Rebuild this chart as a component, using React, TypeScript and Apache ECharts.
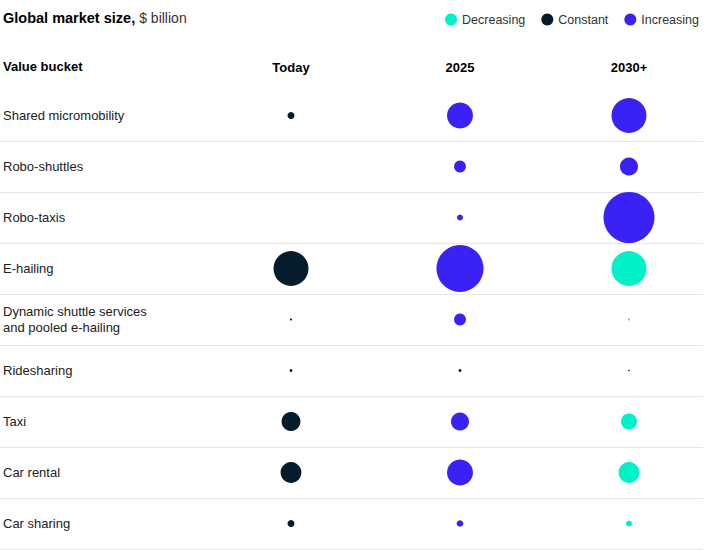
import React, { useEffect, useRef } from "react";
import * as echarts from "echarts";

const FONT = "'Liberation Sans', Arial, Helvetica, sans-serif";

const categories = [
  "Shared micromobility",
  "Robo-shuttles",
  "Robo-taxis",
  "E-hailing",
  "Dynamic shuttle services\nand pooled e-hailing",
  "Ridesharing",
  "Taxi",
  "Car rental",
  "Car sharing",
];

const columns = ["Today", "2025", "2030+"];

// Global market size, $ billion
const todayValues = [4.5, null, null, 112, 0.4, 0.8, 33, 40, 4.5];
const todayTrends = ["C", null, null, "C", "C", "C", "C", "C", "C"];

const values2025 = [62, 13, 3.3, 203, 13, 0.8, 30, 62, 4];
const trends2025 = ["I", "I", "I", "I", "I", "C", "I", "I", "I"];

const values2030 = [112, 30, 239, 112, 0.4, 0.2, 23.5, 40, 3.3];
const trends2030 = ["I", "I", "I", "D", "D", "C", "D", "D", "D"];

const trendNames = { D: "Decreasing", C: "Constant", I: "Increasing" };
const trendColors = { D: "#00f0c8", C: "#051c2c", I: "#3a22f5" };
const trendOrder = ["D", "C", "I"];

export default function App() {
  const ref = useRef<HTMLDivElement>(null);

  useEffect(() => {
    if (!ref.current) return;
    const chart = echarts.init(ref.current, null, { renderer: "svg" });

    const valueCols = [todayValues, values2025, values2030];
    const trendCols = [todayTrends, trends2025, trends2030];

    const series = trendOrder.map((t) => {
      const data: any[] = [];
      valueCols.forEach((vals, c) => {
        vals.forEach((v, r) => {
          if (v != null && trendCols[c][r] === t) data.push([c, r, v]);
        });
      });
      return {
        name: trendNames[t],
        type: "scatter",
        data,
        symbol: "circle",
        symbolSize: (val: number[]) => Math.max(1.5, 3.3 * Math.sqrt(val[2])),
        itemStyle: { color: trendColors[t], opacity: 1 },
        emphasis: { disabled: true },
      };
    });

    chart.setOption({
      animation: false,
      title: {
        left: 3,
        top: 10,
        padding: 0,
        text: "{b|Global market size,} {r|$ billion}",
        textStyle: {
          fontFamily: FONT,
          fontSize: 14.5,
          fontWeight: "normal",
          rich: {
            b: { fontFamily: FONT, fontSize: 14.5, fontWeight: "bold", color: "#000" },
            r: { fontFamily: FONT, fontSize: 14, fontWeight: "normal", color: "#333" },
          },
        },
      },
      legend: {
        top: 8,
        right: 22,
        icon: "circle",
        itemWidth: 12,
        itemHeight: 12,
        itemGap: 16,
        data: trendOrder.map((t) => trendNames[t]),
        textStyle: { fontFamily: FONT, fontSize: 12.5, color: "#333" },
      },
      graphic: [
        {
          type: "text",
          left: 3,
          top: 60,
          style: {
            text: "Value bucket",
            font: `bold 13px ${FONT}`,
            fill: "#000",
          },
        },
      ],
      grid: { left: 0, right: 23, top: 90, bottom: 1 },
      xAxis: {
        type: "value",
        position: "top",
        min: -1.722,
        max: 2.438,
        splitLine: { show: false },
        axisLine: { show: false },
        axisTick: { show: false },
        axisLabel: {
          customValues: [0, 1, 2],
          formatter: (v: number) => columns[Math.round(v)] ?? "",
          fontFamily: FONT,
          fontSize: 13,
          fontWeight: "bold",
          color: "#000",
          margin: 16,
        },
      },
      yAxis: {
        type: "category",
        data: categories,
        inverse: true,
        axisLine: { show: false },
        axisTick: { show: false },
        axisLabel: {
          inside: true,
          margin: 3,
          interval: 0,
          fontFamily: FONT,
          fontSize: 13,
          lineHeight: 16,
          color: "#222",
        },
        splitLine: {
          show: true,
          interval: 0,
          showMinLine: false,
          lineStyle: { color: "#e6e6e6", width: 1 },
        },
      },
      series,
    });

    return () => chart.dispose();
  }, []);

  return (
    <div
      ref={ref}
      style={{ position: "absolute", left: 0, top: 0, width: 726, height: 550 }}
    />
  );
}
